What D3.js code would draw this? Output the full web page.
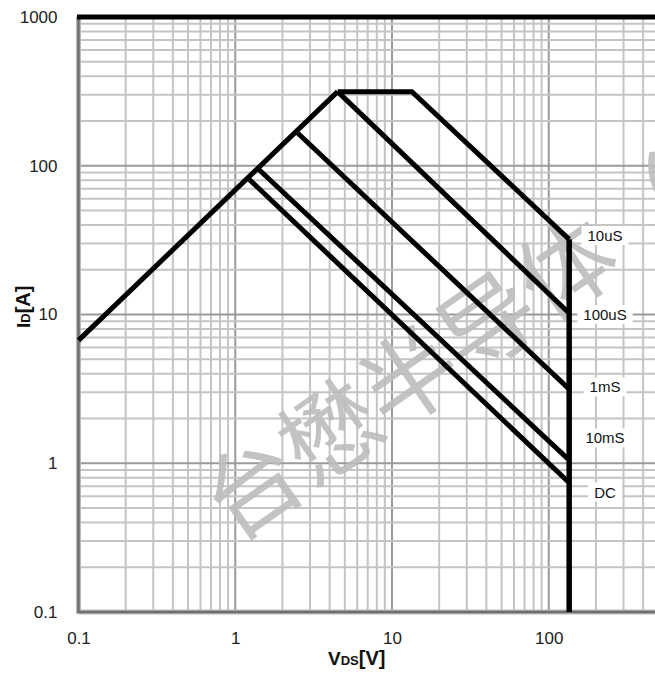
<!DOCTYPE html>
<html>
<head>
<meta charset="utf-8">
<script src="https://cdn.jsdelivr.net/npm/d3@7"></script>
<style>
  html, body { margin: 0; padding: 0; background: #fff; }
  svg { display: block; }
</style>
</head>
<body>
<svg id="chart" width="655" height="674"></svg>
<script>
// ---- data (V in volts, I in amperes) ----
const xTickValues = [0.1, 1, 10, 100];
const yTickValues = [0.1, 1, 10, 100, 1000];
const xTickLabels = ["0.1", "1", "10", "100"];
const yTickLabels = ["0.1", "1", "10", "100", "1000"];

const rdsLimit   = [[0.1, 6.7], [4.5, 315]];
const pulse10us  = [[4.5, 315], [13.4, 315], [135, 32]];
const pulse100us = [[4.5, 315], [135, 10.2]];
const pulse1ms   = [[2.5, 166], [135, 3.15]];
const pulse10ms  = [[1.42, 94], [135, 1.05]];
const dcLine     = [[1.22, 81.5], [135, 0.74]];
const vdsLimit   = [[135, 32], [135, 0.1]];

const seriesNames  = ["10uS", "100uS", "1mS", "10mS", "DC"];
const labelCurrent = [34, 10, 3.26, 1.48, 0.64];

const watermarkText = "台懋半导体（";

(function () {
// ---- layout ----
const svg = d3.select("#chart");
const W = 655;
const pL = 78.5, pT = 17, pB = 612;
const decadeX = 156.75;
const x = d3.scaleLog().domain([0.1, 1000]).range([pL, pL + 4 * decadeX]);
const y = d3.scaleLog().domain([0.1, 1000]).range([pB, pT]);

const font = "'Liberation Sans', Arial, sans-serif";

// grid
const grid = svg.append("g");
const majorX = new Set(xTickValues.concat([1000]).map(v => +v.toPrecision(3)));
grid.selectAll("line.vx").data(x.ticks()).join("line")
  .attr("x1", d => x(d)).attr("x2", d => x(d))
  .attr("y1", pT).attr("y2", pB)
  .attr("stroke", d => majorX.has(+d.toPrecision(3)) ? "#9a9a9a" : "#c4c4c4")
  .attr("stroke-width", 2);
const majorY = new Set(yTickValues.map(v => +v.toPrecision(3)));
grid.selectAll("line.hy").data(y.ticks()).join("line")
  .attr("x1", pL).attr("x2", W)
  .attr("y1", d => y(d)).attr("y2", d => y(d))
  .attr("stroke", d => majorY.has(+d.toPrecision(3)) ? "#9a9a9a" : "#c4c4c4")
  .attr("stroke-width", 2);

// watermark (cropped at the right edge, as in the source image)
const wmCx = 445, wmCy = 345;
svg.append("text")
  .attr("transform", `translate(${wmCx},${wmCy}) rotate(-35)`)
  .attr("text-anchor", "middle")
  .attr("dominant-baseline", "central")
  .attr("font-family", "'Noto Sans CJK SC', sans-serif")
  .attr("font-weight", 400)
  .attr("font-size", 96)
  .attr("fill", "#bdbdbd")
  .attr("fill-opacity", 0.9)
  .text(watermarkText);

// frame
svg.append("line").attr("x1", pL).attr("x2", pL).attr("y1", pT).attr("y2", pB + 2)
  .attr("stroke", "#b8b8b8").attr("stroke-width", 5);
svg.append("line").attr("x1", pL).attr("x2", W).attr("y1", pB).attr("y2", pB)
  .attr("stroke", "#b8b8b8").attr("stroke-width", 5);
svg.append("line").attr("x1", pL).attr("x2", pL).attr("y1", pT).attr("y2", pB + 1)
  .attr("stroke", "#6e6e6e").attr("stroke-width", 2.5);
svg.append("line").attr("x1", pL).attr("x2", W).attr("y1", pB).attr("y2", pB)
  .attr("stroke", "#6e6e6e").attr("stroke-width", 2.5);
svg.append("line").attr("x1", pL - 1.5).attr("x2", W).attr("y1", pT).attr("y2", pT)
  .attr("stroke", "#000").attr("stroke-width", 5);

// curves
const lineGen = d3.line().x(d => x(d[0])).y(d => y(d[1]));
const curves = [rdsLimit, pulse10us, pulse100us, pulse1ms, pulse10ms, dcLine];
svg.append("g").selectAll("path").data(curves).join("path")
  .attr("d", lineGen)
  .attr("fill", "none").attr("stroke", "#000")
  .attr("stroke-width", 5).attr("stroke-linejoin", "miter").attr("stroke-linecap", "butt");
svg.append("path").datum(vdsLimit).attr("d", lineGen)
  .attr("fill", "none").attr("stroke", "#000").attr("stroke-width", 5.5);

// series labels with white boxes
const labG = svg.append("g");
seriesNames.forEach((name, i) => {
  const g = labG.append("g");
  const t = g.append("text")
    .attr("x", 605).attr("y", y(labelCurrent[i]))
    .attr("text-anchor", "middle").attr("dominant-baseline", "central")
    .attr("font-family", font).attr("font-size", 15).attr("fill", "#111")
    .text(name);
  const bb = t.node().getBBox();
  g.insert("rect", "text")
    .attr("x", bb.x - 6).attr("y", bb.y - 1)
    .attr("width", bb.width + 12).attr("height", bb.height + 2)
    .attr("fill", "#fff");
});

// axes
const yAxis = d3.axisLeft(y).tickValues(yTickValues).tickSize(0).tickPadding(21)
  .tickFormat((d, i) => yTickLabels[i]);
const gy = svg.append("g").attr("transform", `translate(${pL},0)`).call(yAxis);
gy.select(".domain").remove();
gy.selectAll("text").attr("font-family", font).attr("font-size", 17).attr("fill", "#222");

const xAxis = d3.axisBottom(x).tickValues(xTickValues).tickSize(0).tickPadding(20)
  .tickFormat((d, i) => xTickLabels[i]);
const gx = svg.append("g").attr("transform", `translate(0,${pB})`).call(xAxis);
gx.select(".domain").remove();
gx.selectAll("text").attr("font-family", font).attr("font-size", 17).attr("fill", "#222");

// axis titles
const xt = svg.append("text").attr("x", 328).attr("y", 665)
  .attr("font-family", font).attr("font-weight", "bold").attr("fill", "#111");
xt.append("tspan").attr("font-size", 19).text("V");
xt.append("tspan").attr("font-size", 13).text("DS");
xt.append("tspan").attr("font-size", 20).text("[V]");

const yt = svg.append("text").attr("transform", "translate(30,328) rotate(-90)")
  .attr("font-family", font).attr("font-weight", "bold").attr("fill", "#111");
yt.append("tspan").attr("font-size", 19).text("I");
yt.append("tspan").attr("font-size", 13).text("D");
yt.append("tspan").attr("font-size", 20).text("[A]");
})();
</script>
</body>
</html>
